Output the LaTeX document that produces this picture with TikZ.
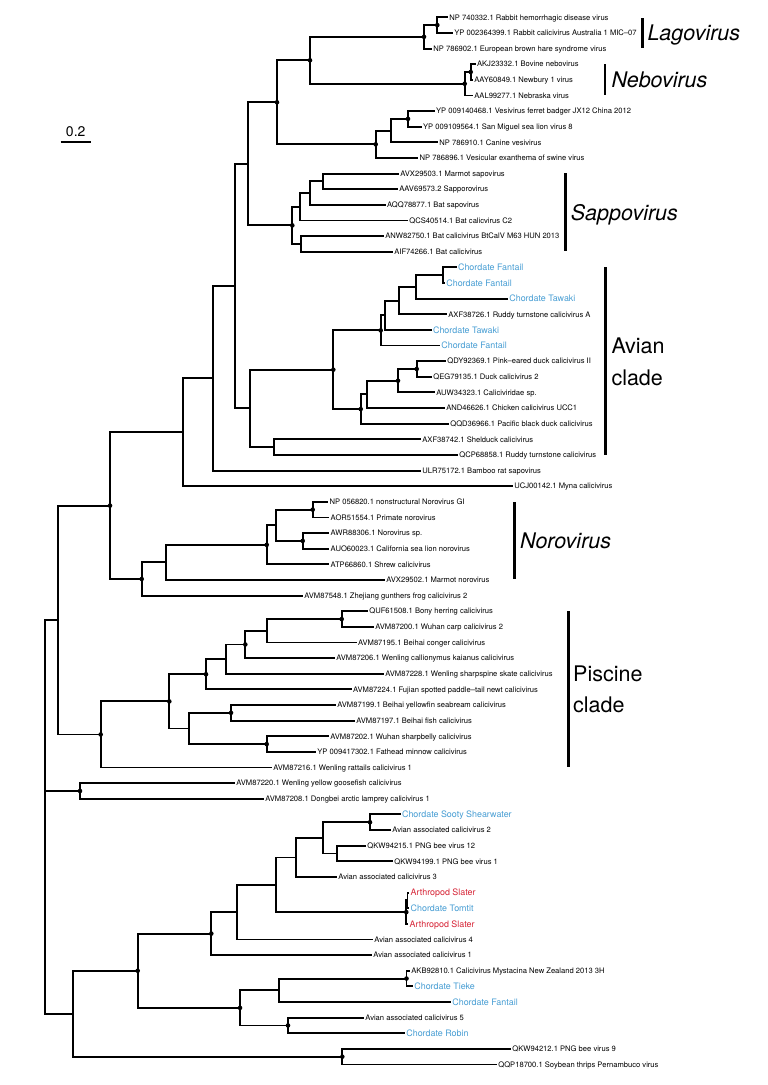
\documentclass[tikz,border=0pt]{standalone}
\usepackage{fontspec}
\setmainfont{TeX Gyre Heros}
\definecolor{chord}{RGB}{72,158,212}
\definecolor{arth}{RGB}{215,38,56}
\begin{document}
\begin{tikzpicture}[x=1pt,y=-1pt,
  br/.style={line width=1.9pt,black,line join=miter},
  lab/.style={anchor=base west,inner sep=0pt,xshift=1.2pt,yshift=-2.7pt,font=\fontsize{7.6}{9}\selectfont},
  clab/.style={anchor=base west,inner sep=0pt,xshift=1.2pt,yshift=-3.2pt,font=\fontsize{8.9}{10}\selectfont,text=chord},
  alab/.style={clab,text=arth},
  dot/.style={circle,fill=black,inner sep=0pt,minimum size=4.6pt},
  bar/.style={line width=2.9pt},
  big/.style={anchor=base west,inner sep=0pt,font=\fontsize{21.5}{25}\selectfont},
  bigi/.style={big,font=\fontsize{21.5}{25}\selectfont\itshape}
]
\useasboundingbox (0,0) rectangle (768,1085);
\fill[white] (0,0) rectangle (768,1085);

% ---------- leaf tips and labels ----------
\coordinate (t1) at (448,17.3); \node[lab] (L1) at (t1) {NP 740332.1 Rabbit hemorrhagic disease virus};
\coordinate (t2) at (453,32.9); \node[lab] (L2) at (t2) {YP 002364399.1 Rabbit calicivirus Australia 1 MIC--07};
\coordinate (t3) at (432,48.6); \node[lab] (L3) at (t3) {NP 786902.1 European brown hare syndrome virus};
\coordinate (t4) at (475.7,64.2); \node[lab] (L4) at (t4) {AKJ23332.1 Bovine nebovirus};
\coordinate (t5) at (473,79.8); \node[lab] (L5) at (t5) {AAY60849.1 Newbury 1 virus};
\coordinate (t6) at (473,95.5); \node[lab] (L6) at (t6) {AAL99277.1 Nebraska virus};
\coordinate (t7) at (434.7,111.1); \node[lab] (L7) at (t7) {YP 009140468.1 Vesivirus ferret badger JX12 China 2012};
\coordinate (t8) at (421.7,126.7); \node[lab] (L8) at (t8) {YP 009109564.1 San Miguel sea lion virus 8};
\coordinate (t9) at (438,142.3); \node[lab] (L9) at (t9) {NP 786910.1 Canine vesivirus};
\coordinate (t10) at (418.3,158.0); \node[lab] (L10) at (t10) {NP 786896.1 Vesicular exanthema of swine virus};
\coordinate (t11) at (399,173.6); \node[lab] (L11) at (t11) {AVX29503.1 Marmot sapovirus};
\coordinate (t12) at (398,189.2); \node[lab] (L12) at (t12) {AAV69573.2 Sapporovirus};
\coordinate (t13) at (385.7,204.9); \node[lab] (L13) at (t13) {AQQ78877.1 Bat sapovirus};
\coordinate (t14) at (408,220.5); \node[lab] (L14) at (t14) {QCS40514.1 Bat calicvirus C2};
\coordinate (t15) at (384,236.1); \node[lab] (L15) at (t15) {ANW82750.1 Bat calicivirus BtCalV M63 HUN 2013};
\coordinate (t16) at (393,251.8); \node[lab] (L16) at (t16) {AIF74266.1 Bat calicivirus};
\coordinate (t17) at (456.7,267.4); \node[clab] (L17) at (t17) {Chordate Fantail};
\coordinate (t18) at (445,283.0); \node[clab] (L18) at (t18) {Chordate Fantail};
\coordinate (t19) at (508,298.6); \node[clab] (L19) at (t19) {Chordate Tawaki};
\coordinate (t20) at (447,314.3); \node[lab] (L20) at (t20) {AXF38726.1 Ruddy turnstone calicivirus A};
\coordinate (t21) at (431.7,329.9); \node[clab] (L21) at (t21) {Chordate Tawaki};
\coordinate (t22) at (440,345.5); \node[clab] (L22) at (t22) {Chordate Fantail};
\coordinate (t23) at (446,361.2); \node[lab] (L23) at (t23) {QDY92369.1 Pink--eared duck calicivirus II};
\coordinate (t24) at (432,376.8); \node[lab] (L24) at (t24) {QEG79135.1 Duck calicivirus 2};
\coordinate (t25) at (435,392.4); \node[lab] (L25) at (t25) {AUW34323.1 Caliciviridae sp.};
\coordinate (t26) at (445,408.1); \node[lab] (L26) at (t26) {AND46626.1 Chicken calicivirus UCC1};
\coordinate (t27) at (449,423.7); \node[lab] (L27) at (t27) {QQD36966.1 Pacific black duck calicivirus};
\coordinate (t28) at (421,439.3); \node[lab] (L28) at (t28) {AXF38742.1 Shelduck calicivirus};
\coordinate (t29) at (458,454.9); \node[lab] (L29) at (t29) {QCP68858.1 Ruddy turnstone calicivirus};
\coordinate (t30) at (421,470.6); \node[lab] (L30) at (t30) {ULR75172.1 Bamboo rat sapovirus};
\coordinate (t31) at (513,486.2); \node[lab] (L31) at (t31) {UCJ00142.1 Myna calicivirus};
\coordinate (t32) at (328.3,501.8); \node[lab] (L32) at (t32) {NP 056820.1 nonstructural Norovirus GI};
\coordinate (t33) at (329.3,517.5); \node[lab] (L33) at (t33) {AOR51554.1 Primate norovirus};
\coordinate (t34) at (329.3,533.1); \node[lab] (L34) at (t34) {AWR88306.1 Norovirus sp.};
\coordinate (t35) at (329.3,548.7); \node[lab] (L35) at (t35) {AUO60023.1 California sea lion norovirus};
\coordinate (t36) at (329.3,564.4); \node[lab] (L36) at (t36) {ATP66860.1 Shrew calicivirus};
\coordinate (t37) at (385,580.0); \node[lab] (L37) at (t37) {AVX29502.1 Marmot norovirus};
\coordinate (t38) at (303,595.6); \node[lab] (L38) at (t38) {AVM87548.1 Zhejiang gunthers frog calicivirus 2};
\coordinate (t39) at (368,611.2); \node[lab] (L39) at (t39) {QUF61508.1 Bony herring calicivirus};
\coordinate (t40) at (374,626.9); \node[lab] (L40) at (t40) {AVM87200.1 Wuhan carp calicivirus 2};
\coordinate (t41) at (356.7,642.5); \node[lab] (L41) at (t41) {AVM87195.1 Beihai conger calicivirus};
\coordinate (t42) at (335,658.1); \node[lab] (L42) at (t42) {AVM87206.1 Wenling callionymus kaianus calicivirus};
\coordinate (t43) at (384,673.8); \node[lab] (L43) at (t43) {AVM87228.1 Wenling sharpspine skate calicivirus};
\coordinate (t44) at (351.7,689.4); \node[lab] (L44) at (t44) {AVM87224.1 Fujian spotted paddle--tail newt calicivirus};
\coordinate (t45) at (336,705.0); \node[lab] (L45) at (t45) {AVM87199.1 Beihai yellowfin seabream calicivirus};
\coordinate (t46) at (355,720.7); \node[lab] (L46) at (t46) {AVM87197.1 Beihai fish calicivirus};
\coordinate (t47) at (329,736.3); \node[lab] (L47) at (t47) {AVM87202.1 Wuhan sharpbelly calicivirus};
\coordinate (t48) at (316,751.9); \node[lab] (L48) at (t48) {YP 009417302.1 Fathead minnow calicivirus};
\coordinate (t49) at (272,767.5); \node[lab] (L49) at (t49) {AVM87216.1 Wenling rattails calicivirus 1};
\coordinate (t50) at (235,783.2); \node[lab] (L50) at (t50) {AVM87220.1 Wenling yellow goosefish calicivirus};
\coordinate (t51) at (264,798.8); \node[lab] (L51) at (t51) {AVM87208.1 Dongbei arctic lamprey calicivirus 1};
\coordinate (t52) at (400.7,814.4); \node[clab] (L52) at (t52) {Chordate Sooty Shearwater};
\coordinate (t53) at (391,830.1); \node[lab] (L53) at (t53) {Avian associated calicivirus 2};
\coordinate (t54) at (366,845.7); \node[lab] (L54) at (t54) {QKW94215.1 PNG bee virus 12};
\coordinate (t55) at (393,861.3); \node[lab] (L55) at (t55) {QKW94199.1 PNG bee virus 1};
\coordinate (t56) at (337,877.0); \node[lab] (L56) at (t56) {Avian associated calicivirus 3};
\coordinate (t57) at (409.3,892.6); \node[alab] (L57) at (t57) {Arthropod Slater};
\coordinate (t58) at (409.3,908.2); \node[clab] (L58) at (t58) {Chordate Tomtit};
\coordinate (t59) at (408.3,923.8); \node[alab] (L59) at (t59) {Arthropod Slater};
\coordinate (t60) at (373,939.5); \node[lab] (L60) at (t60) {Avian associated calicivirus 4};
\coordinate (t61) at (372,955.1); \node[lab] (L61) at (t61) {Avian associated calicivirus 1};
\coordinate (t62) at (410,970.7); \node[lab] (L62) at (t62) {AKB92810.1 Calicivirus Mystacina New Zealand 2013 3H};
\coordinate (t63) at (413,986.4); \node[clab] (L63) at (t63) {Chordate Tieke};
\coordinate (t64) at (451,1002.0); \node[clab] (L64) at (t64) {Chordate Fantail};
\coordinate (t65) at (364,1017.6); \node[lab] (L65) at (t65) {Avian associated calicivirus 5};
\coordinate (t66) at (405,1033.3); \node[clab] (L66) at (t66) {Chordate Robin};
\coordinate (t67) at (511,1048.9); \node[lab] (L67) at (t67) {QKW94212.1 PNG bee virus 9};
\coordinate (t68) at (497,1064.5); \node[lab] (L68) at (t68) {QQP18700.1 Soybean thrips Pernambuco virus};

% ---------- internal nodes ----------
\coordinate (n12) at (437.3,25.1);
\coordinate (nLago) at (424,36.85);
\coordinate (n45) at (470.7,72.0);
\coordinate (nNebo) at (464.7,83.75);
\coordinate (nLN) at (310,60.3);
\coordinate (n78) at (408,118.9);
\coordinate (n789) at (390.7,130.6);
\coordinate (nVes) at (375.7,144.3);
\coordinate (nA) at (277,102.3);
\coordinate (n1112) at (323.3,181.4);
\coordinate (n13) at (310,193.15);
\coordinate (n14) at (300,206.8);
\coordinate (n1516) at (301,243.95);
\coordinate (nSapo) at (292.3,225.4);
\coordinate (nB) at (248.3,163.85);
\coordinate (n1718) at (442.7,275.2);
\coordinate (n19) at (416,286.9);
\coordinate (n20) at (399.3,300.6);
\coordinate (n21) at (385,315.25);
\coordinate (n22) at (380.7,330.4);
\coordinate (n2324) at (416.7,369.0);
\coordinate (n25) at (398,380.7);
\coordinate (n26) at (367.3,394.4);
\coordinate (n27) at (360.7,409.05);
\coordinate (nAv1) at (333.3,369.7);
\coordinate (n2829) at (274,447.1);
\coordinate (nAv) at (250,408.4);
\coordinate (nC) at (235,286.1);
\coordinate (nD) at (213.3,378.35);
\coordinate (nE) at (182.7,432.3);
\coordinate (n3233) at (312.7,509.65);
\coordinate (n3435) at (302.7,540.9);
\coordinate (nN1) at (276.3,525.3);
\coordinate (nN2) at (266.7,544.85);
\coordinate (nN3) at (165.7,562.4);
\coordinate (nN4) at (141.7,579.0);
\coordinate (nF) at (110,505.65);
\coordinate (n3940) at (341.7,619.05);
\coordinate (n41) at (266.7,630.8);
\coordinate (n42) at (245.3,644.45);
\coordinate (n43) at (225.7,659.1);
\coordinate (n44) at (206,674.25);
\coordinate (n4546) at (231,712.85);
\coordinate (n4748) at (266.7,744.1);
\coordinate (nP2) at (188.7,728.5);
\coordinate (nP3) at (169.3,701.4);
\coordinate (nPisc) at (100.7,734.45);
\coordinate (nG) at (58.3,620.05);
\coordinate (n5051) at (80,791.0);
\coordinate (n5253) at (370,822.25);
\coordinate (n5455) at (337.3,853.5);
\coordinate (nb1) at (322.7,837.9);
\coordinate (nb2) at (296,857.45);
\coordinate (n5758) at (407.5,900.4);
\coordinate (n59) at (406.3,912.1);
\coordinate (nb3) at (275.7,884.8);
\coordinate (nb4) at (236.7,912.15);
\coordinate (nb5) at (211.3,933.6);
\coordinate (n6263) at (406.5,978.55);
\coordinate (nb6) at (279.3,990.3);
\coordinate (n6566) at (288,1025.45);
\coordinate (nb7) at (240,1007.9);
\coordinate (nb8) at (137.7,970.75);
\coordinate (n6768) at (342.3,1056.7);
\coordinate (nb9) at (72.7,1013.7);
\coordinate (root) at (45,791.0);

% ---------- branches ----------
\foreach \p/\c in {n12/t1,n12/t2,nLago/n12,nLago/t3,n45/t4,n45/t5,nNebo/n45,nNebo/t6,
  nLN/nLago,nLN/nNebo,n78/t7,n78/t8,n789/n78,n789/t9,nVes/n789,nVes/t10,nA/nLN,nA/nVes,
  n1112/t11,n1112/t12,n13/n1112,n13/t13,n14/n13,n14/t14,n1516/t15,n1516/t16,nSapo/n14,nSapo/n1516,
  nB/nA,nB/nSapo,n1718/t17,n1718/t18,n19/n1718,n19/t19,n20/n19,n20/t20,n21/n20,n21/t21,n22/n21,n22/t22,
  n2324/t23,n2324/t24,n25/n2324,n25/t25,n26/n25,n26/t26,n27/n26,n27/t27,nAv1/n22,nAv1/n27,
  n2829/t28,n2829/t29,nAv/nAv1,nAv/n2829,nC/nB,nC/nAv,nD/nC,nD/t30,nE/nD,nE/t31,
  n3233/t32,n3233/t33,n3435/t34,n3435/t35,nN1/n3233,nN1/n3435,nN2/nN1,nN2/t36,nN3/nN2,nN3/t37,
  nN4/nN3,nN4/t38,nF/nE,nF/nN4,n3940/t39,n3940/t40,n41/n3940,n41/t41,n42/n41,n42/t42,n43/n42,n43/t43,
  n44/n43,n44/t44,n4546/t45,n4546/t46,n4748/t47,n4748/t48,nP2/n4546,nP2/n4748,nP3/n44,nP3/nP2,
  nPisc/nP3,nPisc/t49,nG/nF,nG/nPisc,n5051/t50,n5051/t51,n5253/t52,n5253/t53,n5455/t54,n5455/t55,
  nb1/n5253,nb1/n5455,nb2/nb1,nb2/t56,n5758/t57,n5758/t58,n59/n5758,n59/t59,nb3/nb2,nb3/n59,
  nb4/nb3,nb4/t60,nb5/nb4,nb5/t61,n6263/t62,n6263/t63,nb6/n6263,nb6/t64,n6566/t65,n6566/t66,
  nb7/nb6,nb7/n6566,nb8/nb5,nb8/nb7,n6768/t67,n6768/t68,nb9/nb8,nb9/n6768,
  root/nG,root/n5051,root/nb9}
  \draw[br] (\p) |- (\c);

% ---------- node dots ----------
\foreach \d in {n12,nLago,n45,nNebo,nLN,n78,nVes,nA,nSapo,n22,n2324,n25,n27,nAv1,
  n3233,n3435,nN2,nN4,nF,n3940,n42,n44,n4546,n4748,nP3,nPisc,n5051,
  n5253,n59,nb5,n6263,n6566,nb7,nb8,n6768}
  \node[dot] (d\d) at (\d) {};

% ---------- clade bars and labels ----------
\coordinate (bL1) at (642.3,18.3); \coordinate (bL2) at (642.3,48.3);
\draw[bar] (bL1) -- (bL2);
\node[bigi] (Lago) at (647.3,40.7) {Lagovirus};
\coordinate (bN1) at (605,64); \coordinate (bN2) at (605,95);
\draw[bar] (bN1) -- (bN2);
\node[bigi] (Nebo) at (611.3,87.3) {Nebovirus};
\coordinate (bS1) at (565.7,173.3); \coordinate (bS2) at (565.7,250.7);
\draw[bar] (bS1) -- (bS2);
\node[bigi] (Sapo) at (570.7,220.7) {Sappovirus};
\coordinate (bA1) at (605.7,267); \coordinate (bA2) at (605.7,454.5);
\draw[bar] (bA1) -- (bA2);
\node[big] (Av1) at (611.3,353.3) {Avian};
\node[big] (Av2) at (611.3,385) {clade};
\coordinate (bO1) at (514.7,502.3); \coordinate (bO2) at (514.7,579.3);
\draw[bar] (bO1) -- (bO2);
\node[bigi] (Noro) at (520,548.5) {Norovirus};
\coordinate (bP1) at (568.3,611); \coordinate (bP2) at (568.3,766.7);
\draw[bar] (bP1) -- (bP2);
\node[big] (Pi1) at (573,681.7) {Piscine};
\node[big] (Pi2) at (573,712.7) {clade};

% ---------- scale bar ----------
\coordinate (s1) at (60.7,141.7); \coordinate (s2) at (90.7,141.7);
\draw[line width=1.9pt] (s1) -- (s2);
\node[anchor=base,inner sep=0pt,font=\fontsize{14}{16}\selectfont] (sc) at (75.7,136) {0.2};
\end{tikzpicture}
\end{document}
